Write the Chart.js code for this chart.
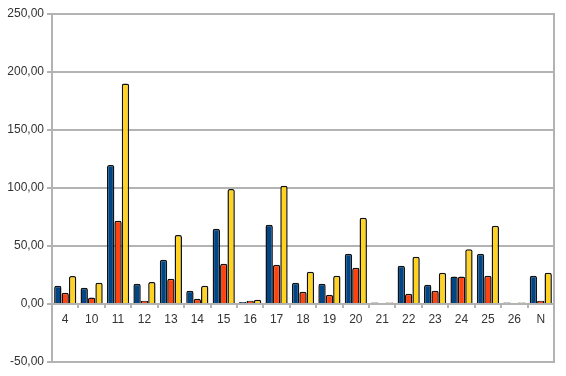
<!DOCTYPE html>
<html>
<head>
<meta charset="utf-8">
<script src="https://cdn.jsdelivr.net/npm/chart.js@4"></script>
<style>
  html, body { margin: 0; padding: 0; background: #fff; }
  #wrap { width: 566px; height: 376px; }
</style>
</head>
<body>
<div id="wrap"><canvas id="myChart"></canvas></div>
<script>
let categories = ['4', '10', '11', '12', '13', '14', '15', '16', '17', '18', '19', '20', '21', '22', '23', '24', '25', '26', 'N'];
let seriesBlue = [15.8, 14, 119.8, 17.5, 38.2, 11.5, 64.9, 1.7, 68.4, 18.4, 17.5, 43.4, 1.4, 33, 16.6, 23.6, 43.4, 1.3, 24.4];
let seriesRed = [9.8, 5.5, 71.8, 2.9, 21.8, 4.6, 34.8, 2.9, 33.9, 10.6, 8, 31.3, 0.8, 8.9, 11.5, 23.6, 24.4, 0.8, 2.9];
let seriesYellow = [24.1, 18.4, 190, 19, 59.5, 15.8, 99.1, 3.7, 102, 27.8, 24.4, 74.4, 1.4, 40.8, 27, 47.1, 67.5, 1.3, 27];
let yTicks = [-50, 0, 50, 100, 150, 200, 250];

const gridGrey = '#b3b3b3';

// grey frame round the plot area (right side is not a grid line)
const framePlugin = {
    id: 'frame',
    beforeDatasetsDraw(chart) {
        const a = chart.chartArea;
        const ctx = chart.ctx;
        ctx.save();
        ctx.strokeStyle = gridGrey;
        ctx.lineWidth = 2;
        ctx.strokeRect(a.left, a.top, a.right - a.left, a.bottom - a.top);
        ctx.restore();
    }
};

function makeSet(data, color) {
    return {
        data: data,
        backgroundColor: color,
        borderColor: '#111',
        borderWidth: 1.5,
        borderSkipped: 'bottom',
        borderRadius: 2,
        barPercentage: 1,
        categoryPercentage: 0.84
    };
}

new Chart(document.getElementById('myChart'), {
    type: 'bar',
    data: {
        labels: categories,
        datasets: [
            makeSet(seriesBlue, '#004586'),
            makeSet(seriesRed, '#ff420e'),
            makeSet(seriesYellow, '#ffd320')
        ]
    },
    options: {
        responsive: true,
        maintainAspectRatio: false,
        animation: false,
        layout: { padding: { top: 14, right: 12, bottom: 14, left: 0 } },
        plugins: {
            legend: { display: false },
            tooltip: { enabled: false }
        },
        scales: {
            x: {
                position: { y: 0 },
                grid: {
                    display: true,
                    drawOnChartArea: false,
                    drawTicks: true,
                    tickLength: 4,
                    color: gridGrey,
                    lineWidth: 2
                },
                border: { display: false },
                ticks: {
                    color: '#333',
                    font: { family: 'Liberation Sans', size: 12 },
                    padding: 4
                }
            },
            y: {
                min: -50,
                max: 250,
                afterBuildTicks(scale) {
                    scale.ticks = yTicks.map(v => ({ value: v }));
                },
                afterFit(scale) {
                    scale.width = 52;
                },
                grid: {
                    color: gridGrey,
                    lineWidth: 2,
                    tickLength: 5
                },
                border: { color: gridGrey, width: 2 },
                ticks: {
                    color: '#333',
                    font: { family: 'Liberation Sans', size: 12 },
                    padding: 3,
                    callback: v => v.toFixed(2).replace('.', ',')
                }
            }
        }
    },
    plugins: [framePlugin]
});
</script>
</body>
</html>
